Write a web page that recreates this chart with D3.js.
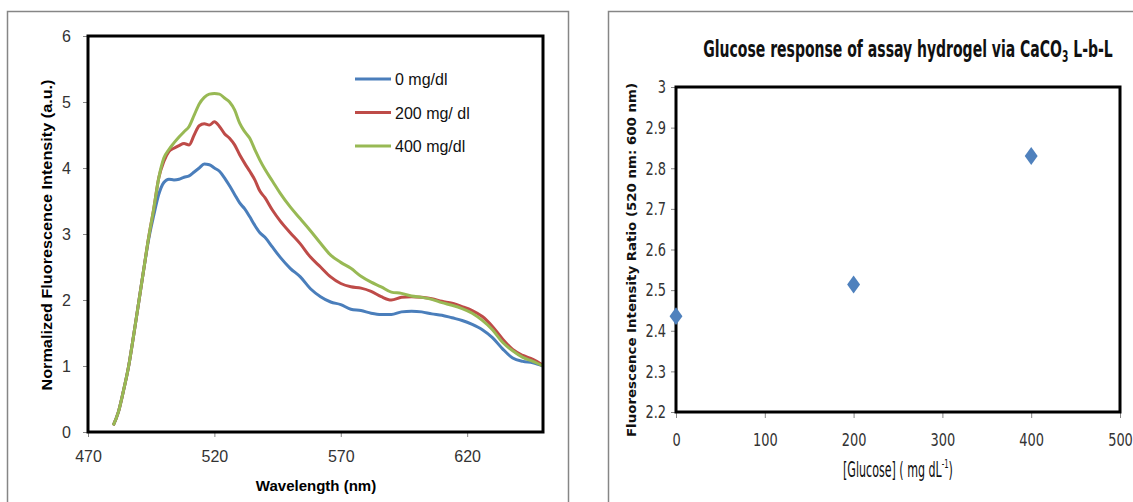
<!DOCTYPE html>
<html>
<head>
<meta charset="utf-8">
<script src="https://cdn.jsdelivr.net/npm/d3@7"></script>
<style>
  body { margin: 0; background: #fff; }
</style>
</head>
<body>
<svg id="vis"></svg>
<script>
    // left: emission spectra
    const wavelengths = [480,482,484,486,488,490,492,494,496,498,500,502,504,506,508,510,512,514,516,518,520,
        522,524,526,528,530,532,534,536,538,540,543,546,550,554,558,562,566,570,574,578,582,586,
        590,594,598,602,606,610,614,618,622,626,630,634,638,642,646,650]
    const glucose0 = [0.1,0.3,0.62,0.98,1.45,1.95,2.45,2.92,3.28,3.6,3.78,
        3.83,3.82,3.83,3.86,3.88,3.94,4.0,4.06,4.05,4.0,
        3.95,3.85,3.73,3.6,3.47,3.38,3.26,3.13,3.02,2.95,
        2.8,2.65,
        2.48,2.35,2.17,2.05,1.97,1.93,1.86,1.84,1.8,1.78,
        1.78,1.82,1.83,1.82,1.79,1.77,1.73,1.69,1.63,1.55,
        1.43,1.26,1.12,1.07,1.05,1.0]
    const glucose200 = [0.1,0.3,0.62,0.98,1.45,1.95,2.45,2.95,3.38,3.85,4.1,
        4.25,4.3,4.34,4.37,4.35,4.5,4.64,4.67,4.65,4.7,
        4.63,4.52,4.45,4.35,4.2,4.07,3.95,3.82,3.65,3.55,
        3.36,3.2,
        3.02,2.85,2.65,2.5,2.35,2.25,2.2,2.18,2.13,2.05,
        2.0,2.04,2.05,2.04,2.02,1.98,1.95,1.9,1.84,1.75,
        1.6,1.41,1.25,1.16,1.1,1.01]
    const glucose400 = [0.1,0.3,0.62,0.98,1.45,1.95,2.45,2.95,3.38,3.85,4.15,
        4.28,4.38,4.47,4.55,4.63,4.8,4.97,5.07,5.12,5.13,
        5.12,5.06,5.0,4.88,4.68,4.55,4.45,4.28,4.12,3.98,
        3.8,3.62,
        3.41,3.23,3.05,2.86,2.68,2.57,2.48,2.36,2.27,2.2,
        2.12,2.1,2.06,2.04,2.01,1.96,1.92,1.87,1.8,1.69,
        1.55,1.36,1.23,1.13,1.07,1.0]
    const seriesNames = ['0 mg/dl', '200 mg/ dl', '400 mg/dl']
    const seriesColors = ['#4a7ebb', '#be4b48', '#98b954']
    const xTicksLeft = [470, 520, 570, 620]
    const yTicksLeft = [0, 1, 2, 3, 4, 5, 6]

    // right: ratio vs glucose
    const glucoseLevels = [0, 200, 400]
    const ratios = [2.436, 2.514, 2.83]
    const xTicksRight = [0, 100, 200, 300, 400, 500]
    const yTicksRight = [2.2, 2.3, 2.4, 2.5, 2.6, 2.7, 2.8, 2.9, 3]

    const baseFont = '"Liberation Sans", Arial, sans-serif'
    const narrowFont = '"Liberation Sans Narrow", "DejaVu Sans Condensed", "Arial Narrow", "Liberation Sans", sans-serif'

    let svg = d3.select('#vis')
        .attr('width', 1133)
        .attr('height', 502)

    // squeeze a text horizontally so it spans the given width
    function fitWidth(text, target, cx) {
        const w = text.node().getBBox().width
        const k = target / w
        text.attr('transform', `translate(${cx},0) scale(${k},1) translate(${-cx},0)`)
    }

    function styleAxis(g, font, size) {
        g.select('.domain').remove()
        g.selectAll('.tick line').attr('stroke', '#868686')
        g.selectAll('.tick text')
            .attr('fill', '#333')
            .style('font-family', font)
            .style('font-size', size + 'px')
    }

    // narrow look for the right chart's tick labels
    function squeezeTicks(g, k) {
        g.selectAll('.tick text').each(function () {
            const t = d3.select(this)
            const tx = +t.attr('x') || 0
            t.attr('transform', `translate(${tx},0) scale(${k},1) translate(${-tx},0)`)
        })
    }

    // panel frames
    svg.append('rect')
        .attr('x', 7.5).attr('y', 11.5)
        .attr('width', 561).attr('height', 520)
        .attr('fill', 'none').attr('stroke', '#868686').attr('stroke-width', 1.5)
    svg.append('rect')
        .attr('x', 608.5).attr('y', 11.5)
        .attr('width', 600).attr('height', 520)
        .attr('fill', 'none').attr('stroke', '#868686').attr('stroke-width', 1.5)

    // ---------- left chart ----------
    const x1 = d3.scaleLinear().domain([470, 650]).range([88, 543])
    const y1 = d3.scaleLinear().domain([0, 6]).range([432, 36])

    svg.append('g')
        .attr('transform', 'translate(0,432)')
        .call(d3.axisBottom(x1).tickValues(xTicksLeft).tickSize(5).tickPadding(14)
            .tickFormat(d3.format('d')))
        .call(g => styleAxis(g, baseFont, 16))

    svg.append('g')
        .attr('transform', 'translate(88,0)')
        .call(d3.axisLeft(y1).tickValues(yTicksLeft).tickSize(5).tickPadding(12)
            .tickFormat(d3.format('d')))
        .call(g => styleAxis(g, baseFont, 16))

    const spectra = [glucose0, glucose200, glucose400]
    const line1 = d3.line()
        .x((d, i) => x1(wavelengths[i]))
        .y(d => y1(d))
        .curve(d3.curveMonotoneX)

    svg.selectAll('path.spectrum')
        .data(spectra)
        .enter().append('path')
        .attr('class', 'spectrum')
        .attr('d', d => line1(d))
        .attr('fill', 'none')
        .attr('stroke', (d, i) => seriesColors[i])
        .attr('stroke-width', 3)
        .attr('stroke-linejoin', 'round')

    svg.append('rect')
        .attr('x', 88).attr('y', 36)
        .attr('width', 455).attr('height', 396)
        .attr('fill', 'none').attr('stroke', 'black').attr('stroke-width', 3)

    // legend
    let legend = svg.selectAll('g.legend')
        .data(seriesNames)
        .enter().append('g')
        .attr('class', 'legend')
        .attr('transform', (d, i) => `translate(355,${79 + i * 33.5})`)
    legend.append('line')
        .attr('x1', 0).attr('x2', 36)
        .attr('stroke', (d, i) => seriesColors[i])
        .attr('stroke-width', 3)
    legend.append('text')
        .attr('x', 40).attr('y', 6)
        .style('font-family', baseFont)
        .style('font-size', '16px')
        .attr('fill', '#111')
        .text(d => d)

    svg.append('text')
        .attr('x', 316).attr('y', 491)
        .attr('text-anchor', 'middle')
        .style('font-family', baseFont)
        .style('font-size', '15px')
        .style('font-weight', 'bold')
        .text('Wavelength (nm)')

    svg.append('text')
        .attr('transform', 'translate(52,235) rotate(-90)')
        .attr('text-anchor', 'middle')
        .style('font-family', baseFont)
        .style('font-size', '15px')
        .style('font-weight', 'bold')
        .attr('textLength', 311)
        .attr('lengthAdjust', 'spacingAndGlyphs')
        .text('Normalized Fluorescence Intensity (a.u.)')

    // ---------- right chart ----------
    const x2 = d3.scaleLinear().domain([0, 500]).range([676, 1120])
    const y2 = d3.scaleLinear().domain([2.2, 3]).range([412, 87])

    svg.append('g')
        .attr('transform', 'translate(0,412)')
        .call(d3.axisBottom(x2).tickValues(xTicksRight).tickSize(6).tickPadding(15))
        .call(g => styleAxis(g, narrowFont, 18))
        .call(g => squeezeTicks(g, 0.8))

    svg.append('g')
        .attr('transform', 'translate(676,0)')
        .call(d3.axisLeft(y2).tickValues(yTicksRight).tickSize(5).tickPadding(5)
            .tickFormat(d => d === 3 ? '3' : d3.format('.1f')(d)))
        .call(g => styleAxis(g, narrowFont, 18))
        .call(g => squeezeTicks(g, 0.8))

    svg.append('rect')
        .attr('x', 676).attr('y', 87)
        .attr('width', 444).attr('height', 325)
        .attr('fill', 'none').attr('stroke', 'black').attr('stroke-width', 3)

    const tallDiamond = {
        draw(context, size) {
            const h = Math.sqrt(size) * 0.82
            const w = h * 0.72
            context.moveTo(0, -h)
            context.lineTo(w, 0)
            context.lineTo(0, h)
            context.lineTo(-w, 0)
            context.closePath()
        }
    }

    svg.selectAll('path.point')
        .data(ratios)
        .enter().append('path')
        .attr('class', 'point')
        .attr('d', d3.symbol().type(tallDiamond).size(120))
        .attr('transform', (d, i) => `translate(${x2(glucoseLevels[i])},${y2(d)})`)
        .attr('fill', '#4f81bd')

    let title = svg.append('text')
        .attr('x', 908).attr('y', 57)
        .attr('text-anchor', 'middle')
        .style('font-family', narrowFont)
        .style('font-size', '23px')
        .style('font-weight', 'bold')
        .attr('fill', '#111')
    title.append('tspan').text('Glucose response of assay hydrogel via CaCO')
    title.append('tspan').attr('dy', 5).style('font-size', '15px').text('3')
    title.append('tspan').attr('dy', -5).text(' L-b-L')
    fitWidth(title, 410, 908)

    let xTitle = svg.append('text')
        .attr('x', 898).attr('y', 477)
        .attr('text-anchor', 'middle')
        .style('font-family', narrowFont)
        .style('font-size', '21px')
        .attr('fill', '#111')
    xTitle.append('tspan').text('[Glucose] ( mg dL')
    xTitle.append('tspan').attr('dy', -9).style('font-size', '13px').text('-1')
    xTitle.append('tspan').attr('dy', 9).text(')')
    fitWidth(xTitle, 110, 898)

    svg.append('text')
        .attr('transform', 'translate(636,260) rotate(-90)')
        .attr('text-anchor', 'middle')
        .style('font-family', '"DejaVu Sans", Verdana, sans-serif')
        .style('font-size', '12.5px')
        .style('font-weight', 'bold')
        .attr('textLength', 354)
        .attr('lengthAdjust', 'spacingAndGlyphs')
        .attr('fill', '#111')
        .text('Fluorescence Intensity Ratio (520 nm: 600 nm)')
</script>
</body>
</html>
